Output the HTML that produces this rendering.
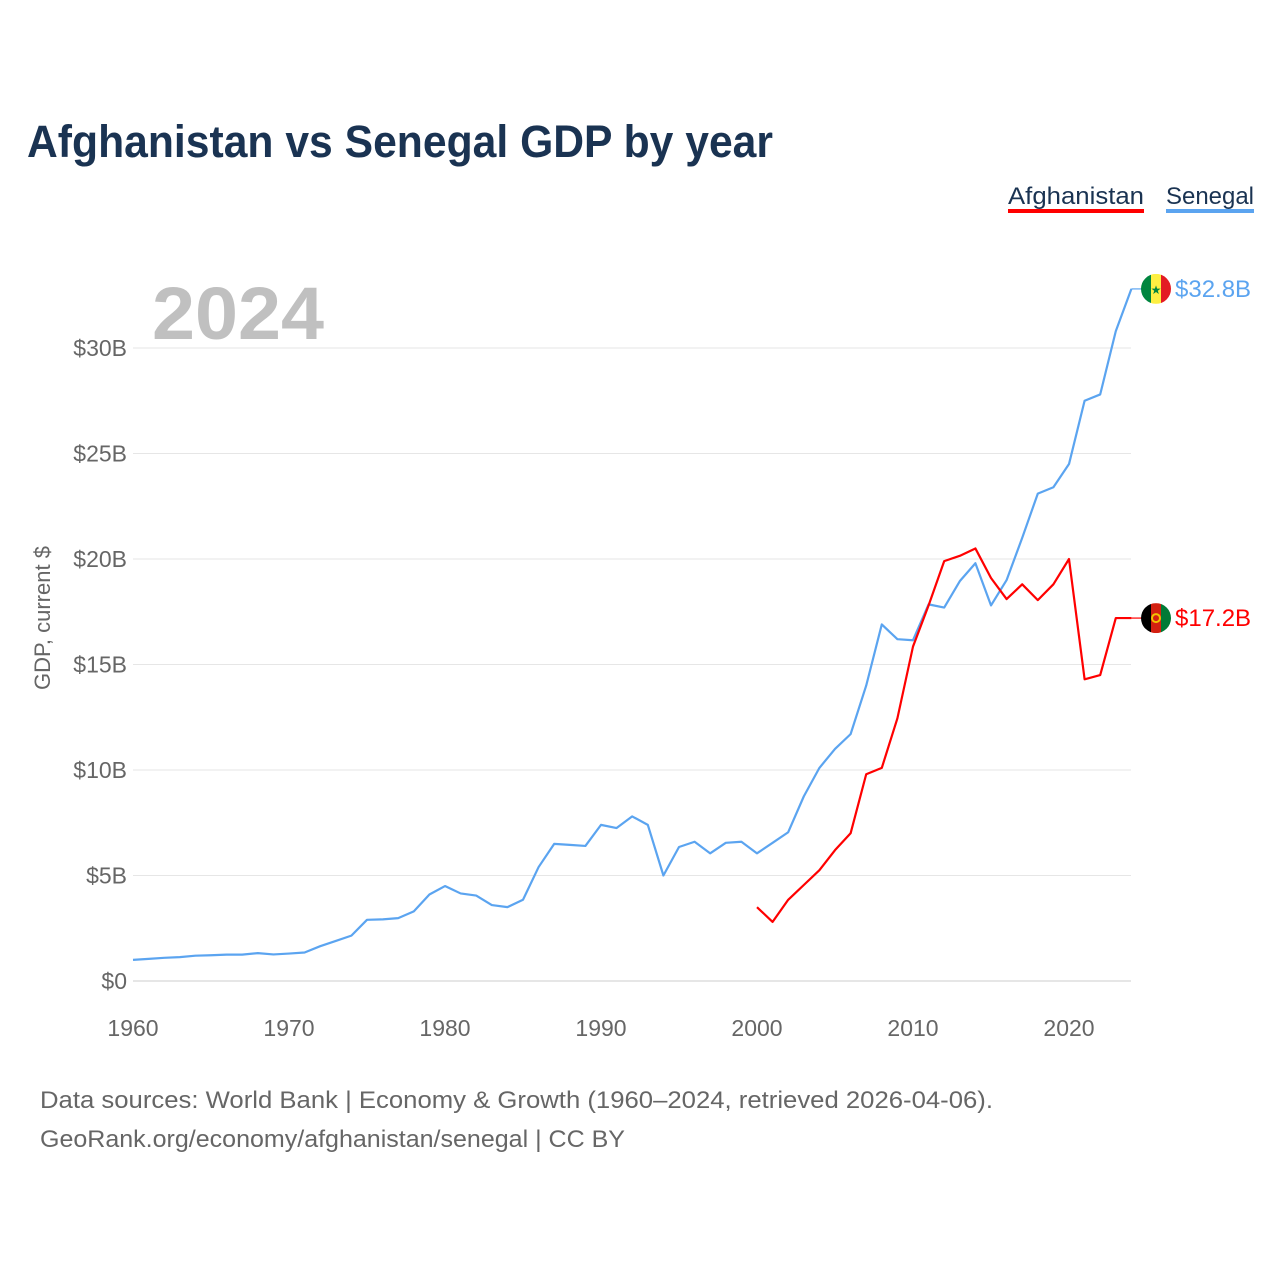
<!DOCTYPE html>
<html><head><meta charset="utf-8"><style>
body{margin:0;background:#fff;font-family:"Liberation Sans",sans-serif;}
</style></head><body>
<svg width="1280" height="1280" xmlns="http://www.w3.org/2000/svg">
<text x="27" y="157" font-size="45" font-weight="bold" fill="#1a3352" textLength="746" lengthAdjust="spacingAndGlyphs">Afghanistan vs Senegal GDP by year</text>
<g>
<text x="1008" y="204" font-size="24" fill="#1a3352" textLength="136" lengthAdjust="spacingAndGlyphs">Afghanistan</text>
<rect x="1008" y="209" width="136" height="4" fill="#ff0000"/>
<text x="1166" y="204" font-size="24" fill="#1a3352" textLength="88" lengthAdjust="spacingAndGlyphs">Senegal</text>
<rect x="1166" y="209" width="88" height="4" fill="#5ba4f0"/>
</g>
<text x="152" y="339" font-size="74" font-weight="bold" fill="#c0c0c0" textLength="172" lengthAdjust="spacingAndGlyphs">2024</text>
<g id="grid"></g><g id="yt"></g><g id="xt"></g>
<text transform="translate(50,618) rotate(-90)" text-anchor="middle" font-size="22" fill="#666">GDP, current $</text>
<g id="lines"></g>
<text x="40" y="1108" font-size="24" fill="#666" textLength="953" lengthAdjust="spacingAndGlyphs">Data sources: World Bank | Economy &amp; Growth (1960–2024, retrieved 2026-04-06).</text>
<text x="40" y="1147" font-size="24" fill="#666" textLength="585" lengthAdjust="spacingAndGlyphs">GeoRank.org/economy/afghanistan/senegal | CC BY</text>
</svg>
<script>
const yTicks=[0,5,10,15,20,25,30];
const xTicks=[1960,1970,1980,1990,2000,2010,2020];
const senegalStart=1960;
const senegal=[1.0,1.05,1.1,1.13,1.2,1.22,1.25,1.25,1.32,1.26,1.3,1.35,1.65,1.9,2.15,2.9,2.92,2.98,3.3,4.1,4.5,4.15,4.05,3.6,3.5,3.85,5.4,6.5,6.45,6.4,7.4,7.25,7.8,7.4,5.0,6.35,6.6,6.05,6.55,6.6,6.05,6.55,7.05,8.75,10.1,11.0,11.7,14.0,16.9,16.2,16.15,17.85,17.7,18.95,19.8,17.8,19.0,21.0,23.1,23.4,24.5,27.5,27.8,30.8,32.8];
const afghanStart=2000;
const afghanistan=[3.5,2.8,3.85,4.55,5.25,6.2,7.0,9.8,10.1,12.45,15.85,17.8,19.9,20.15,20.5,19.1,18.1,18.8,18.05,18.8,20.0,14.3,14.5,17.2,17.2];
const NS="http://www.w3.org/2000/svg";
const X=y=>133+(y-1960)*15.6;
const Y=v=>981-v*21.1;
function mk(t,a,p){const e=document.createElementNS(NS,t);for(const k in a)e.setAttribute(k,a[k]);p.appendChild(e);return e;}
const grid=document.getElementById('grid'),yt=document.getElementById('yt'),xt=document.getElementById('xt'),ln=document.getElementById('lines');
yTicks.forEach(v=>{
 const l=mk('line',{x1:133,x2:1131,y1:Y(v),y2:Y(v),stroke:v===0?'#ccc':'#e6e6e6','stroke-width':1},grid);
 
 
 const t=mk('text',{x:127,y:Y(v)+8,'text-anchor':'end','font-size':23,fill:'#666'},yt);
 t.textContent='$'+v+(v?'B':'');
 
 
});
xTicks.forEach(y=>{
 const t=mk('text',{x:X(y),y:1036,'text-anchor':'middle','font-size':23,fill:'#666'},xt);
 t.textContent=y;
 
 
});
function series(vals,start,col,name){
 const pts=vals.map((v,i)=>X(start+i)+','+Y(v)).join(' ');
 const p=mk('polyline',{points:pts,fill:'none',stroke:col,'stroke-width':2.2,'stroke-linejoin':'round'},ln);
 
 
 const lv=vals[vals.length-1],lx=X(start+vals.length-1),ly=Y(lv);
 mk('line',{x1:lx,x2:1142,y1:ly,y2:ly,stroke:col,'stroke-width':1.2},ln);
 const t=mk('text',{x:1175,y:ly+8,'font-size':24,fill:col},ln);
 t.textContent='$'+lv.toFixed(1)+'B';
 
 
 return ly;
}
const sy=series(senegal,senegalStart,'#5ba4f0','senegal');
const ay=series(afghanistan,afghanStart,'#ff0000','afghanistan');
const fs=mk('g',{},ln);


const g1=mk('g',{transform:`translate(1156,${sy})`},fs);
mk('clipPath',{id:'cs'},g1);mk('circle',{r:15},g1.lastChild);
const gg=mk('g',{'clip-path':'url(#cs)'},g1);
mk('rect',{x:-15,y:-15,width:10,height:30,fill:'#00853f'},gg);
mk('rect',{x:-5,y:-15,width:10,height:30,fill:'#fdef42'},gg);
mk('rect',{x:5,y:-15,width:10,height:30,fill:'#e31b23'},gg);
mk('text',{x:0,y:5,'text-anchor':'middle','font-size':12,fill:'#00853f'},gg).textContent='★';
const fa=mk('g',{transform:`translate(1156,${ay})`},ln);


mk('clipPath',{id:'ca'},fa);mk('circle',{r:15},fa.lastChild);
const ga=mk('g',{'clip-path':'url(#ca)'},fa);
mk('rect',{x:-15,y:-15,width:10,height:30,fill:'#000'},ga);
mk('rect',{x:-5,y:-15,width:10,height:30,fill:'#d32011'},ga);
mk('rect',{x:5,y:-15,width:10,height:30,fill:'#007a36'},ga);
mk('circle',{r:4,fill:'none',stroke:'#f2c200','stroke-width':2},ga);
</script>
</body></html>
